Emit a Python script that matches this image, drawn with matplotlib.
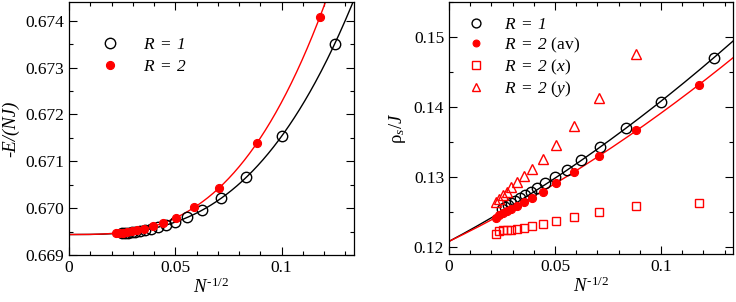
import numpy as np
import matplotlib
matplotlib.use("Agg")
import matplotlib.pyplot as plt
from matplotlib.ticker import MultipleLocator, FixedFormatter, FixedLocator

plt.rcParams['font.family'] = ['Liberation Serif', 'DejaVu Serif']
plt.rcParams['mathtext.fontset'] = 'custom'
plt.rcParams['mathtext.rm'] = 'Liberation Serif'
plt.rcParams['mathtext.it'] = 'Liberation Serif:italic'
plt.rcParams['mathtext.sf'] = 'Liberation Serif:italic'
plt.rcParams['mathtext.bf'] = 'Liberation Serif:bold'
plt.rcParams['mathtext.fallback'] = 'stix'

# ---------------- data ----------------
# Left panel: -E/(NJ) vs N^{-1/2}
x_r1 = [0.125, 0.1, 0.08333, 0.07143, 0.0625, 0.05556, 0.05, 0.04545, 0.04167,
        0.03846, 0.03571, 0.03333, 0.03125, 0.02941, 0.02778, 0.02632, 0.025]
e_r1 = [0.67351, 0.67154, 0.67066, 0.67021, 0.66996, 0.66981, 0.66971, 0.66964,
        0.66959, 0.66956, 0.66954, 0.66952, 0.66950, 0.66949, 0.66948, 0.66948, 0.66947]

x_r2 = [0.11785, 0.08839, 0.07071, 0.05893, 0.05051, 0.04419, 0.03928, 0.03536,
        0.03214, 0.02946, 0.02720, 0.02525, 0.02357, 0.02210]
e_r2 = [0.67407, 0.67139, 0.67044, 0.67002, 0.66980, 0.66968, 0.66961, 0.66956,
        0.66953, 0.66951, 0.66949, 0.66948, 0.66947, 0.66947]

# fit coefficients  e0 + c3 x^3 + c4 x^4
fit_e_r1 = [0.669437, 2.15, -0.5]
fit_e_r2 = [0.669437, 2.83, 0.0]

# Right panel: rho_s/J vs N^{-1/2}
rho_r1 = [0.14705, 0.14071, 0.13700, 0.13429, 0.13239, 0.13096, 0.12996, 0.1291,
          0.1284, 0.1279, 0.1274, 0.1270, 0.1266, 0.1263, 0.1260, 0.1257, 0.1254]
rho_r2_av = [0.14320, 0.13667, 0.13305, 0.13075, 0.12912, 0.12788, 0.12707, 0.12640,
             0.12588, 0.12550, 0.12513, 0.12486, 0.12455, 0.12414]
rho_r2_x = [0.12634, 0.12591, 0.12496, 0.12429, 0.12367, 0.12324, 0.12296, 0.12271,
            0.12257, 0.12248, 0.12243, 0.12239, 0.12224, 0.12191]
rho_r2_y = [0.16006, 0.14763, 0.14129, 0.13729, 0.13463, 0.13257, 0.13119, 0.13014,
            0.12929, 0.12857, 0.12786, 0.12739, 0.12691, 0.12643]

# fit coefficients  rho0 + a x + b x^2
fit_rho_r1 = [0.1208, 0.1609, 0.393]
fit_rho_r2 = [0.1208, 0.1464, 0.368]

xticks = [0, 0.05, 0.1]
xticklabels = ['0', '0.05', '0.1']
yticks_left = [0.669, 0.670, 0.671, 0.672, 0.673, 0.674]
yticklabels_left = ['0.669', '0.670', '0.671', '0.672', '0.673', '0.674']
yticks_right = [0.12, 0.13, 0.14, 0.15]
yticklabels_right = ['0.12', '0.13', '0.14', '0.15']

# ---------------- figure ----------------
fig = plt.figure(figsize=(7.36, 3.02), dpi=100)
axL = fig.add_axes([69/736, 47/302, 285/736, 253/302])
axR = fig.add_axes([449/736, 48/302, 284/736, 252/302])

RED = '#ff0000'
xx = np.linspace(0, 0.14, 400)
FS = 12.5

def style(ax):
    ax.tick_params(which='both', direction='in', top=True, right=True, labelsize=FS)
    ax.tick_params(which='major', length=5.5, width=0.8)
    ax.tick_params(which='minor', length=3, width=0.8)
    for s in ax.spines.values():
        s.set_linewidth(0.9)
    ax.xaxis.set_major_locator(FixedLocator(xticks))
    ax.xaxis.set_major_formatter(FixedFormatter(xticklabels))
    ax.xaxis.set_minor_locator(MultipleLocator(0.01))
    ax.set_xlim(0, 0.134)
    ax.set_xlabel(r'$N^{\text{-1/2}}$', fontsize=FS + 1, labelpad=1)

lab1 = r'$R\ =\ \mathsf{1}$'
lab2 = r'$R\ =\ \mathsf{2}$'

# Left
axL.plot(xx, fit_e_r1[0] + fit_e_r1[1]*xx**3 + fit_e_r1[2]*xx**4, color='black', lw=1.0)
axL.plot(xx, fit_e_r2[0] + fit_e_r2[1]*xx**3 + fit_e_r2[2]*xx**4, color=RED, lw=1.0)
axL.plot(x_r1, e_r1, 'o', ms=7.5, mfc='none', mec='black', mew=1.0, label=lab1)
axL.plot(x_r2, e_r2, 'o', ms=5.8, mfc=RED, mec=RED, mew=0.8, label=lab2)
style(axL)
axL.yaxis.set_major_locator(FixedLocator(yticks_left))
axL.yaxis.set_major_formatter(FixedFormatter(yticklabels_left))
axL.yaxis.set_minor_locator(MultipleLocator(0.0005))
axL.set_ylim(0.669, 0.6744)
axL.set_ylabel('-E/(NJ)', style='italic', fontsize=FS + 1, labelpad=4)
axL.legend(loc='upper left', bbox_to_anchor=(0.09, 0.89), frameon=False, fontsize=FS,
           handletextpad=1.4, labelspacing=0.35, borderaxespad=0, handlelength=1.0,
           markerscale=1.0)

# Right
axR.plot(xx, fit_rho_r1[0] + fit_rho_r1[1]*xx + fit_rho_r1[2]*xx**2, color='black', lw=1.0)
axR.plot(xx, fit_rho_r2[0] + fit_rho_r2[1]*xx + fit_rho_r2[2]*xx**2, color=RED, lw=1.0)
axR.plot(x_r1, rho_r1, 'o', ms=7.5, mfc='none', mec='black', mew=1.0, label=lab1)
axR.plot(x_r2, rho_r2_av, 'o', ms=5.8, mfc=RED, mec=RED, mew=0.8, label=lab2 + ' (av)')
axR.plot(x_r2, rho_r2_x, 's', ms=6.3, mfc='none', mec=RED, mew=1.0, label=lab2 + ' ($x$)')
axR.plot(x_r2, rho_r2_y, '^', ms=7, mfc='none', mec=RED, mew=1.0, label=lab2 + ' ($y$)')
style(axR)
axR.yaxis.set_major_locator(FixedLocator(yticks_right))
axR.yaxis.set_major_formatter(FixedFormatter(yticklabels_right))
axR.yaxis.set_minor_locator(MultipleLocator(0.005))
axR.set_ylim(0.119, 0.155)
axR.set_ylabel(r'$\mathrm{\rho}_s/J$', fontsize=FS + 1, labelpad=4)
axR.legend(loc='upper left', bbox_to_anchor=(0.045, 0.97), frameon=False, fontsize=FS,
           handletextpad=1.25, labelspacing=0.16, borderaxespad=0, handlelength=0.8,
           markerscale=0.85)

fig.savefig('out.png', dpi=100)
